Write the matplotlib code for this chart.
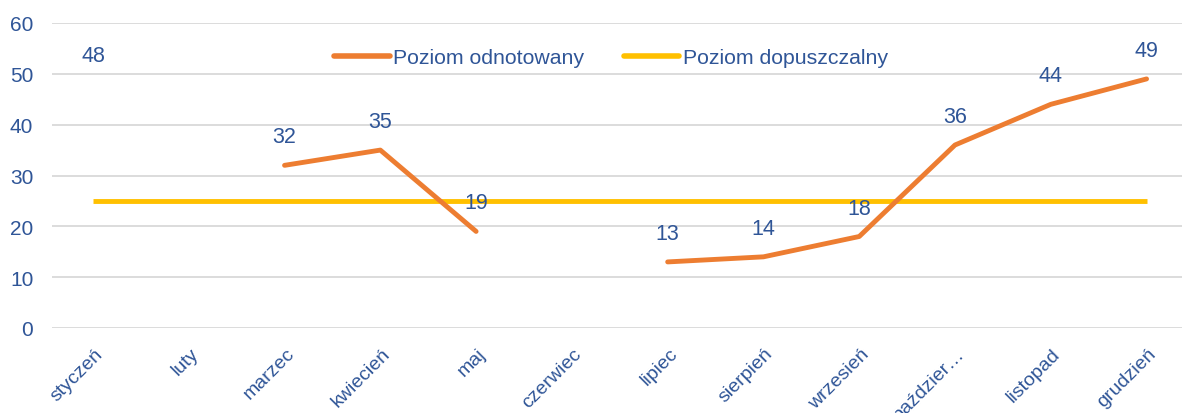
import matplotlib
matplotlib.use("Agg")
import matplotlib.pyplot as plt
import matplotlib.transforms as mtrans
import numpy as np

months = ["styczeń", "luty", "marzec", "kwiecień", "maj", "czerwiec", "lipiec",
          "sierpień", "wrzesień", "paździer…", "listopad", "grudzień"]
recorded = [48, None, 32, 35, 19, None, 13, 14, 18, 36, 44, 49]
allowed = [25] * 12

ORANGE = "#ED7D31"
YELLOW = "#FFC000"
TXT = "#2F5597"
GRID = "#D9D9D9"

plt.rcParams['font.family'] = ['Liberation Sans', 'DejaVu Sans']

fig = plt.figure(figsize=(11.82, 4.14), dpi=100)
ax = fig.add_axes([52 / 1182, 85 / 414, 1 - 52 / 1182, (390 - 85) / 414])

x = np.arange(len(months))
rec = np.array([np.nan if v is None else v for v in recorded], dtype=float)

ax.plot(x, rec, color=ORANGE, lw=3.5, solid_capstyle='round', solid_joinstyle='round',
        label="Poziom odnotowany", zorder=3)
ax.plot(x, allowed, color=YELLOW, lw=3.5, solid_capstyle='butt',
        label="Poziom dopuszczalny", zorder=2)

for xi, v in zip(x, recorded):
    if v is not None:
        ax.annotate(str(v), (xi, v), xytext=(0, 20.5), textcoords='offset points',
                    ha='center', va='center', color=TXT, fontsize=15.5, zorder=4)

ax.set_xlim(-0.428, 11.37)
ax.set_ylim(0, 60)
ax.set_yticks(range(0, 61, 10))
ax.set_xticks(x)
ax.set_xticklabels(months, rotation=45, ha='right', rotation_mode='anchor')
ax.tick_params(axis='y', length=0, colors=TXT, labelsize=15, pad=13.5)
ax.tick_params(axis='x', length=0, colors=TXT, labelsize=14, pad=12)
off = mtrans.ScaledTranslation(1 / 100, 0, fig.dpi_scale_trans)
for lab in ax.get_xticklabels():
    lab.set_transform(lab.get_transform() + off)
ax.grid(axis='y', color=GRID, lw=1.3)
ax.set_axisbelow(True)
for s in ax.spines.values():
    s.set_visible(False)

leg = ax.legend(loc='center', bbox_to_anchor=(611 / 1182, 1 - 59 / 414), bbox_transform=fig.transFigure,
                ncol=2, frameon=False, fontsize=15.3, handlelength=2.6, handletextpad=0.15,
                columnspacing=1.9, borderpad=0, borderaxespad=0)
for t in leg.get_texts():
    t.set_color(TXT)
for h in leg.get_lines():
    h.set_linewidth(4)
    h.set_solid_capstyle('round')

fig.savefig("out.png", dpi=100)
